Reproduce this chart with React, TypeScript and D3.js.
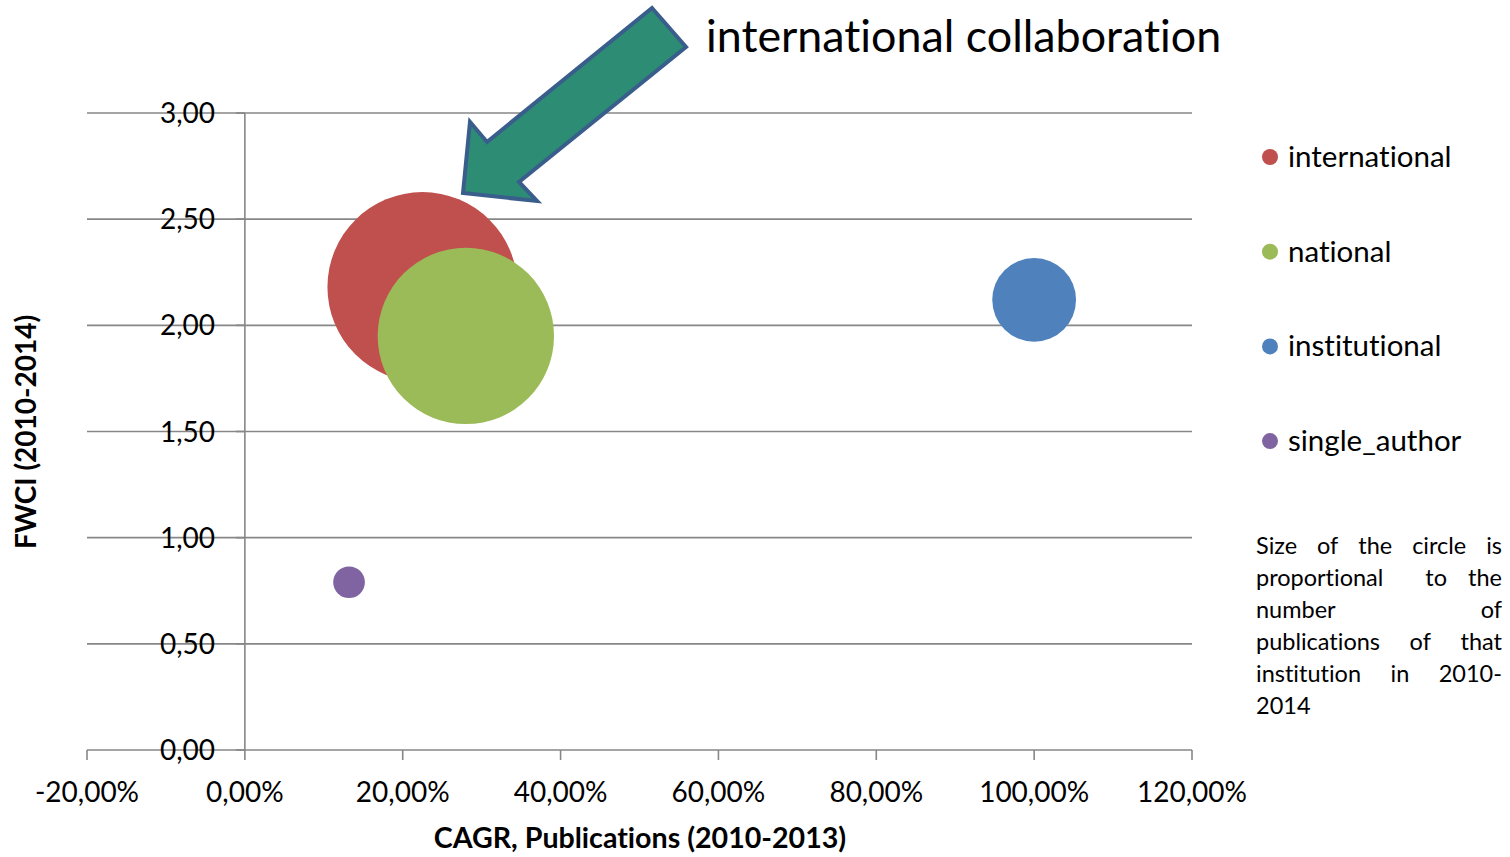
import React, { useEffect, useRef } from "react";
import * as d3 from "d3";

// Collaboration types and their metrics
const series = ["international", "national", "institutional", "single_author"];
const cagrPct = [22.5, 28.0, 100.0, 13.2]; // CAGR of publications 2010-2013, %
const fwciVals = [2.18, 1.95, 2.12, 0.79]; // FWCI 2010-2014
const publications = [1800, 1550, 350, 50]; // relative publication counts (bubble area)
const colors = ["#C0504D", "#9BBB59", "#4F81BD", "#8064A2"];

const xTicks = [-20, 0, 20, 40, 60, 80, 100, 120];
const yTicks = [0, 0.5, 1, 1.5, 2, 2.5, 3];

const noteLines = [
  "Size of the circle is",
  "proportional  to the",
  "number of",
  "publications of that",
  "institution in 2010-",
  "2014",
];

const title = "international collaboration";
const xTitle = "CAGR, Publications (2010-2013)";
const yTitle = "FWCI (2010-2014)";

// Callout arrow outline (page coordinates)
const arrowPts: [number, number][] = [
  [652, 8],
  [686, 47],
  [519, 182],
  [537, 201],
  [463, 193],
  [470, 122],
  [487, 142],
];

const W = 1510;
const H = 857;
const FONT = "Lato, 'Open Sans', sans-serif";

export default function App() {
  const ref = useRef<SVGSVGElement>(null);

  useEffect(() => {
    const svg = d3.select(ref.current);
    svg.selectAll("*").remove();

    const x = d3.scaleLinear().domain([-20, 120]).range([87, 1192]);
    const y = d3.scaleLinear().domain([0, 3]).range([750, 113]);
    const r = d3.scaleSqrt().domain([0, d3.max(publications)!]).range([0, 95]);

    const grid = "#878787";
    const fmtY = (v: number) => v.toFixed(2).replace(".", ",");
    const fmtX = (v: number) => v.toFixed(2).replace(".", ",") + "%";

    // horizontal gridlines
    svg
      .append("g")
      .selectAll("line")
      .data(yTicks)
      .join("line")
      .attr("x1", x(-20))
      .attr("x2", x(120))
      .attr("y1", (d) => y(d))
      .attr("y2", (d) => y(d))
      .attr("stroke", grid)
      .attr("stroke-width", 1.6);

    // y axis line at x = 0 with ticks
    svg
      .append("line")
      .attr("x1", x(0))
      .attr("x2", x(0))
      .attr("y1", y(0))
      .attr("y2", y(3))
      .attr("stroke", grid)
      .attr("stroke-width", 1.6);
    svg
      .append("g")
      .selectAll("line")
      .data(yTicks)
      .join("line")
      .attr("x1", x(0) - 9)
      .attr("x2", x(0))
      .attr("y1", (d) => y(d))
      .attr("y2", (d) => y(d))
      .attr("stroke", grid)
      .attr("stroke-width", 1.6);

    // x axis ticks
    svg
      .append("g")
      .selectAll("line")
      .data(xTicks)
      .join("line")
      .attr("x1", (d) => x(d))
      .attr("x2", (d) => x(d))
      .attr("y1", y(0))
      .attr("y2", y(0) + 10)
      .attr("stroke", grid)
      .attr("stroke-width", 1.6);

    // tick labels
    svg
      .append("g")
      .selectAll("text")
      .data(yTicks)
      .join("text")
      .attr("x", 215)
      .attr("y", (d) => y(d) + 10)
      .attr("text-anchor", "end")
      .attr("font-family", FONT)
      .attr("font-size", 28)
      .attr("fill", "#000")
      .text(fmtY);

    svg
      .append("g")
      .selectAll("text")
      .data(xTicks)
      .join("text")
      .attr("x", (d) => x(d))
      .attr("y", 802)
      .attr("text-anchor", "middle")
      .attr("font-family", FONT)
      .attr("font-size", 28)
      .attr("fill", "#000")
      .text(fmtX);

    // axis titles
    svg
      .append("text")
      .attr("x", 640)
      .attr("y", 848)
      .attr("text-anchor", "middle")
      .attr("font-family", FONT)
      .attr("font-weight", "bold")
      .attr("font-size", 28.6)
      .text(xTitle);
    svg
      .append("text")
      .attr("transform", "translate(36,432) rotate(-90)")
      .attr("text-anchor", "middle")
      .attr("font-family", FONT)
      .attr("font-weight", "bold")
      .attr("font-size", 28)
      .text(yTitle);

    // bubbles
    svg
      .append("g")
      .selectAll("circle")
      .data(series.map((s, i) => i))
      .join("circle")
      .attr("cx", (i) => x(cagrPct[i]))
      .attr("cy", (i) => y(fwciVals[i]))
      .attr("r", (i) => r(publications[i]))
      .attr("fill", (i) => colors[i]);

    // callout arrow and title
    svg
      .append("path")
      .attr("d", d3.line()(arrowPts) + "Z")
      .attr("fill", "#2C8D74")
      .attr("stroke", "#3A5E8C")
      .attr("stroke-width", 4)
      .attr("stroke-linejoin", "miter");
    svg
      .append("text")
      .attr("x", 706)
      .attr("y", 52)
      .attr("font-family", FONT)
      .attr("font-size", 44.8)
      .attr("fill", "#000")
      .text(title);

    // legend
    const lg = svg.append("g");
    series.forEach((s, i) => {
      const cy = 157 + i * 94.7;
      lg.append("circle").attr("cx", 1270).attr("cy", cy).attr("r", 8).attr("fill", colors[i]);
      lg.append("text")
        .attr("x", 1288)
        .attr("y", cy + 10)
        .attr("font-family", FONT)
        .attr("font-size", 29.5)
        .attr("fill", "#000")
        .text(s);
    });

    // justified note
    const noteG = svg.append("g").attr("font-family", FONT).attr("font-size", 23.5).attr("fill", "#000");
    const left = 1256;
    const right = 1502;
    noteLines.forEach((line, li) => {
      const by = 554 + li * 32;
      const words = line.split(" ");
      const last = li === noteLines.length - 1;
      if (last || words.length === 1) {
        noteG.append("text").attr("x", left).attr("y", by).text(line);
        return;
      }
      const nodes = words.map((w) => noteG.append("text").attr("y", by).text(w));
      const widths = nodes.map((n) => (n.node() as SVGTextElement).getComputedTextLength());
      const gap = (right - left - d3.sum(widths)) / (words.length - 1);
      let cx = left;
      nodes.forEach((n, k) => {
        n.attr("x", cx);
        cx += widths[k] + gap;
      });
    });
  }, []);

  return (
    <svg
      ref={ref}
      width={W}
      height={H}
      style={{
        position: "absolute",
        left: 0,
        top: 0,
        background: "#fff",
        fontVariantLigatures: "none",
      }}
    />
  );
}
